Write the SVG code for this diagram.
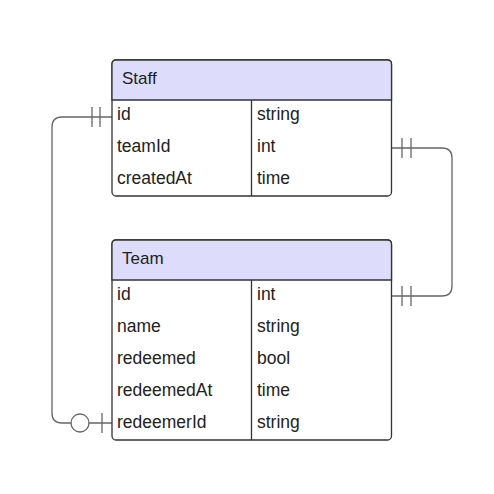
<svg xmlns="http://www.w3.org/2000/svg" width="494" height="494" viewBox="0 0 494 494">
<style>
.box{fill:#fff;stroke:#333;stroke-width:1.3}
.hdr{fill:#dddcfa;stroke:#333;stroke-width:1.3}
.ln{stroke:#333;stroke-width:1.3;fill:none}
.t{font-family:"Liberation Sans",Arial,sans-serif;font-size:17.5px;fill:#222}
.h{font-family:"Liberation Sans",Arial,sans-serif;font-size:17px;fill:#222}
.c{stroke:#666;stroke-width:1.3;fill:none}
</style>
<rect width="494" height="494" fill="#fff"/>
<g id="connectors">
<path class="c" d="M112 117 H62 Q52 117 52 127 V413 Q52 423 62 423 H112"/>
<line class="c" x1="92" y1="107" x2="92" y2="127"/>
<line class="c" x1="100" y1="107" x2="100" y2="127"/>
<circle cx="80" cy="423" r="9" fill="#fff" stroke="#666" stroke-width="1.3"/>
<line class="c" x1="102" y1="413" x2="102" y2="433"/>
<path class="c" d="M391 148 H442 Q452 148 452 158 V286 Q452 296 442 296 H391"/>
<line class="c" x1="402" y1="138" x2="402" y2="158"/>
<line class="c" x1="411" y1="138" x2="411" y2="158"/>
<line class="c" x1="402" y1="286" x2="402" y2="306"/>
<line class="c" x1="411" y1="286" x2="411" y2="306"/>
</g>
<g id="Staff">
<rect class="box" x="112" y="60" width="279.5" height="136" rx="4"/>
<path class="hdr" d="M112 100 V64 Q112 60 116 60 H387.5 Q391.5 60 391.5 64 V100 Z"/>
<line class="ln" x1="251.5" y1="100" x2="251.5" y2="196"/>
<text class="h" x="122" y="83.5">Staff</text>
<text class="t" x="117" y="120">id</text>
<text class="t" x="257" y="120">string</text>
<text class="t" x="117" y="152">teamId</text>
<text class="t" x="257" y="152">int</text>
<text class="t" x="117" y="184">createdAt</text>
<text class="t" x="257" y="184">time</text>
</g>
<g id="Team">
<rect class="box" x="112" y="240" width="279.5" height="200" rx="4"/>
<path class="hdr" d="M112 280 V244 Q112 240 116 240 H387.5 Q391.5 240 391.5 244 V280 Z"/>
<line class="ln" x1="251.5" y1="280" x2="251.5" y2="440"/>
<text class="h" x="122" y="263.5">Team</text>
<text class="t" x="117" y="300">id</text>
<text class="t" x="257" y="300">int</text>
<text class="t" x="117" y="332">name</text>
<text class="t" x="257" y="332">string</text>
<text class="t" x="117" y="364">redeemed</text>
<text class="t" x="257" y="364">bool</text>
<text class="t" x="117" y="396">redeemedAt</text>
<text class="t" x="257" y="396">time</text>
<text class="t" x="117" y="428">redeemerId</text>
<text class="t" x="257" y="428">string</text>
</g>
</svg>
